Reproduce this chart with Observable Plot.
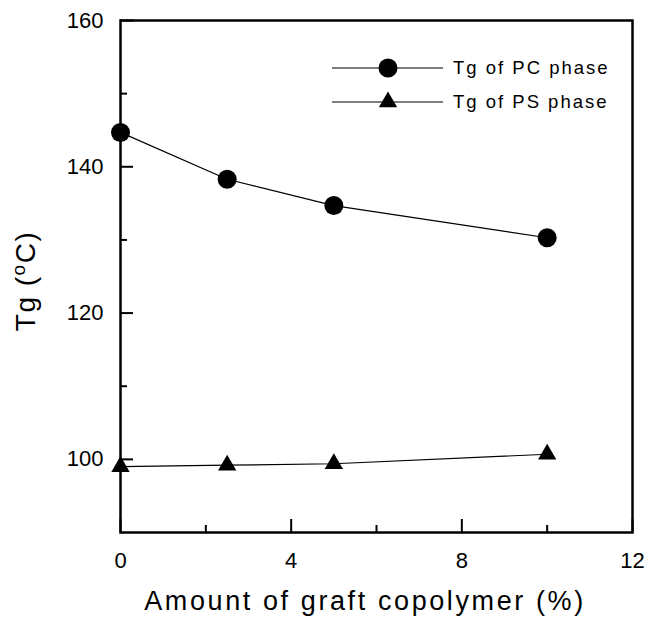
<!DOCTYPE html>
<html>
<head>
<meta charset="utf-8">
<script src="https://cdn.jsdelivr.net/npm/d3@7"></script>
<script src="https://cdn.jsdelivr.net/npm/@observablehq/plot@0.6"></script>
<style>
  body { margin: 0; background: #fff; }
  #wrap { position: relative; width: 646px; height: 617px; font-family: "Liberation Sans", Arial, sans-serif; }
  #legend { position: absolute; left: 0; top: 0; }
</style>
</head>
<body>
<div id="wrap"></div>
<script>
const amount = [0, 2.5, 5, 10];
const tgPC = [144.7, 138.3, 134.7, 130.3];
const tgPS = [99.0, 99.2, 99.4, 100.7];
const seriesNames = ["Tg of PC phase", "Tg of PS phase"];
const xMajorTicks = [0, 4, 8, 12];
const xMinorTicks = [2, 6, 10];
const yMajorTicks = [100, 120, 140, 160];
const yMinorTicks = [110, 130, 150];
const xTitle = "Amount of graft copolymer (%)";

const pc = amount.map((x, i) => ({x, y: tgPC[i]}));
const ps = amount.map((x, i) => ({x, y: tgPS[i]}));

const font = "Liberation Sans, Arial, sans-serif";

const chart = Plot.plot({
  width: 646,
  height: 617,
  marginLeft: 120,
  marginRight: 14,
  marginTop: 20,
  marginBottom: 85,
  style: {fontFamily: font, fontSize: "22px", background: "white", color: "black"},
  x: {domain: [0, 12]},
  y: {domain: [90, 160]},
  marks: [
    Plot.frame({stroke: "black", strokeWidth: 2.5}),
    Plot.axisX({ticks: xMajorTicks, tickSize: -13, strokeWidth: 2, tickFormat: () => "", label: null}),
    Plot.axisX({ticks: xMinorTicks, tickSize: -7, strokeWidth: 2, tickFormat: () => "", label: null}),
    Plot.axisY({ticks: yMajorTicks, tickSize: -13, strokeWidth: 2, tickFormat: () => "", label: null}),
    Plot.axisY({ticks: yMinorTicks, tickSize: -7, strokeWidth: 2, tickFormat: () => "", label: null}),
    Plot.axisX({ticks: xMajorTicks, tickSize: 0, tickPadding: 20, label: null, tickFormat: d => String(d)}),
    Plot.axisY({ticks: yMajorTicks, tickSize: 0, tickPadding: 17, label: null, tickFormat: d => String(d)}),
    Plot.line(pc, {x: "x", y: "y", stroke: "black", strokeWidth: 1.2}),
    Plot.line(ps, {x: "x", y: "y", stroke: "black", strokeWidth: 1.2}),
    Plot.dot(pc, {x: "x", y: "y", r: 9.5, fill: "black", symbol: "circle"}),
    Plot.dot(ps, {x: "x", y: "y", r: 6.8, fill: "black", symbol: "triangle"})
  ]
});

const wrap = document.getElementById("wrap");
wrap.appendChild(chart);

const svg = d3.select(chart);
svg.selectAll('g[aria-label$="tick label"]').style("font-size", "22px");
svg.selectAll('g[aria-label$="tick label"] text').style("font-size", "22px");

// axis titles
svg.append("text")
  .attr("x", 365).attr("y", 610)
  .attr("text-anchor", "middle")
  .attr("font-size", 27)
  .attr("font-family", font)
  .style("letter-spacing", "2.6px")
  .text(xTitle);

const yt = svg.append("text")
  .attr("transform", "translate(35,281) rotate(-90)")
  .attr("text-anchor", "middle")
  .attr("font-size", 28)
  .attr("font-family", font)
  .style("letter-spacing", "1.5px");
yt.append("tspan").text("Tg (");
yt.append("tspan").attr("font-size", 19).attr("dy", -10).text("o");
yt.append("tspan").attr("dy", 10).text("C)");

// legend overlay
const leg = d3.select(wrap).append("svg")
  .attr("id", "legend").attr("width", 646).attr("height", 617)
  .style("pointer-events", "none");
const rows = leg.selectAll("g").data(seriesNames).join("g")
  .attr("transform", (d, i) => `translate(332,${68 + i * 34})`);
rows.append("line").attr("x1", 0).attr("x2", 111).attr("stroke", "black").attr("stroke-width", 1.2);
rows.filter((d, i) => i === 0).append("circle").attr("cx", 56).attr("r", 9.5).attr("fill", "black");
rows.filter((d, i) => i === 1).append("path")
  .attr("transform", "translate(56,0)")
  .attr("d", d3.symbol(d3.symbolTriangle, Math.PI * 6.8 * 6.8)()).attr("fill", "black");
rows.append("text").attr("x", 121).attr("y", 0).attr("dy", "0.35em")
  .attr("font-size", 18.5).attr("font-family", font)
  .style("letter-spacing", "2px")
  .text(d => d);
</script>
</body>
</html>
